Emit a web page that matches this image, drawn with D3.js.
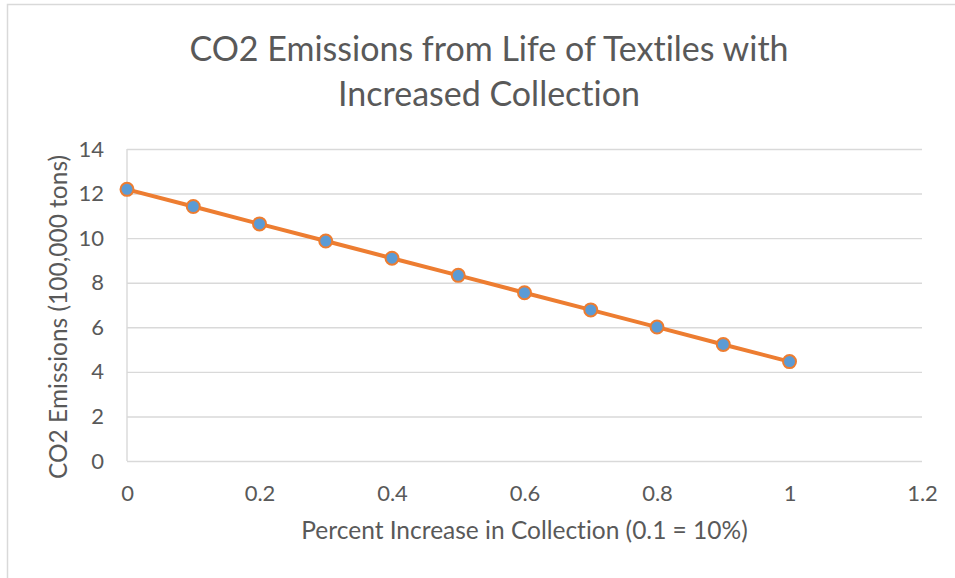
<!DOCTYPE html>
<html lang="en">
<head>
<meta charset="utf-8">
<title>CO2 Emissions from Life of Textiles</title>
<script src="https://cdn.jsdelivr.net/npm/d3@7"></script>
<style>
  body { margin: 0; background: #fff; }
  text { font-family: "Lato", "Open Sans", sans-serif; fill: #595959; font-variant-ligatures: none; }
</style>
</head>
<body>
<script>
// data
var collection = [0, 0.1, 0.2, 0.3, 0.4, 0.5, 0.6, 0.7, 0.8, 0.9, 1];
var emissions = [12.19, 11.42, 10.64, 9.87, 9.10, 8.33, 7.55, 6.78, 6.01, 5.23, 4.46];
var xTicks = [0, 0.2, 0.4, 0.6, 0.8, 1, 1.2];
var yTicks = [0, 2, 4, 6, 8, 10, 12, 14];
var titleLines = ["CO2 Emissions from Life of Textiles with", "Increased Collection"];

var W = 955, H = 578;
var plot = {left: 127, right: 922, top: 149, bottom: 461};

var svg = d3.select("body").append("svg")
    .attr("width", W)
    .attr("height", H);

// chart frame (runs off the right/bottom edge in the original)
svg.append("rect")
    .attr("x", 7.5).attr("y", 4.5)
    .attr("width", W + 20).attr("height", H + 20)
    .attr("fill", "none")
    .attr("stroke", "#d9d9d9")
    .attr("stroke-width", 1.5);

var x = d3.scaleLinear().domain([0, 1.2]).range([plot.left, plot.right]);
var y = d3.scaleLinear().domain([0, 14]).range([plot.bottom, plot.top]);

// horizontal gridlines
svg.append("g")
    .attr("transform", "translate(" + plot.left + ",0)")
    .call(d3.axisLeft(y).tickValues(yTicks).tickSize(-(plot.right - plot.left)).tickFormat(""))
    .call(function (g) {
        g.select(".domain").remove();
        g.selectAll("line").attr("stroke", "#d9d9d9").attr("stroke-width", 1.4);
    });

// left axis line
svg.append("line")
    .attr("x1", plot.left).attr("x2", plot.left)
    .attr("y1", plot.top).attr("y2", plot.bottom)
    .attr("stroke", "#d9d9d9").attr("stroke-width", 1.4);

// y tick labels
svg.append("g")
    .attr("transform", "translate(" + (plot.left - 23) + ",0)")
    .call(d3.axisLeft(y).tickValues(yTicks).tickSize(0).tickPadding(0))
    .call(function (g) {
        g.select(".domain").remove();
        g.selectAll("text").style("font-size", "22px").style("font-family", null).attr("fill", "#595959");
    });

// x tick labels
svg.append("g")
    .attr("transform", "translate(0," + (plot.bottom + 24.5) + ")")
    .call(d3.axisBottom(x).tickValues(xTicks).tickSize(0).tickPadding(0).tickFormat(d3.format("")))
    .call(function (g) {
        g.select(".domain").remove();
        g.selectAll("text").style("font-size", "22px").style("font-family", null).attr("fill", "#595959");
    });

// line + markers
var line = d3.line()
    .x(function (d, i) { return x(collection[i]); })
    .y(function (d) { return y(d); });

svg.append("path")
    .datum(emissions)
    .attr("d", line)
    .attr("fill", "none")
    .attr("stroke", "#ed7d31")
    .attr("stroke-width", 4)
    .attr("stroke-linejoin", "round");

svg.selectAll("circle.pt")
    .data(emissions)
    .enter()
    .append("circle")
    .attr("class", "pt")
    .attr("cx", function (d, i) { return x(collection[i]); })
    .attr("cy", function (d) { return y(d); })
    .attr("r", 6.5)
    .attr("fill", "#5b9bd5")
    .attr("stroke", "#ed7d31")
    .attr("stroke-width", 2);

// title
svg.append("text")
    .attr("text-anchor", "middle")
    .style("font-size", "34px")
    .selectAll("tspan")
    .data(titleLines)
    .enter()
    .append("tspan")
    .attr("x", 489)
    .attr("y", function (d, i) { return 61 + i * 45; })
    .text(function (d) { return d; });

// axis titles
svg.append("text")
    .attr("x", (plot.left + plot.right) / 2)
    .attr("y", 539)
    .attr("text-anchor", "middle")
    .style("font-size", "24.5px")
    .text("Percent Increase in Collection (0.1 = 10%)");

svg.append("text")
    .attr("transform", "translate(67," + 317 + ") rotate(-90)")
    .attr("text-anchor", "middle")
    .style("font-size", "24.5px")
    .text("CO2 Emissions (100,000 tons)");
</script>
</body>
</html>
